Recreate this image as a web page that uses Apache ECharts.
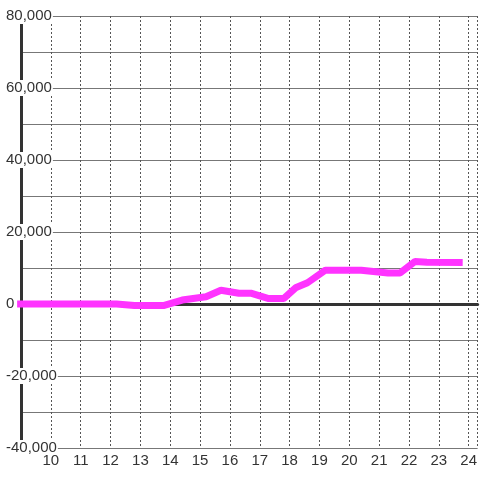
<!DOCTYPE html>
<html>
<head>
<meta charset="utf-8">
<script src="https://cdn.jsdelivr.net/npm/echarts@6/dist/echarts.min.js"></script>
<style>
  html, body { margin: 0; padding: 0; background: #fff; }
  #main { width: 480px; height: 480px; }
</style>
</head>
<body>
<div id="main"></div>
<script>
// hour of day vs value
var hours = [8.87, 12.2, 12.8, 13.8, 14.4, 15.2, 15.7, 16.3, 16.7, 17.3, 17.8, 18.2, 18.6, 19.2, 20.4, 21.3, 21.7, 22.2, 22.6, 23.8];
var values = [0, 0, -400, -400, 1100, 2000, 3800, 3000, 3000, 1500, 1500, 4500, 5900, 9400, 9400, 8600, 8600, 11800, 11600, 11500];

var xMin = 9, xMax = 24.3;
var yMin = -40000, yMax = 80000;

var chart = echarts.init(document.getElementById("main"));
var font = "'Liberation Sans', Arial, sans-serif";

chart.setOption({
  animation: false,
  grid: { left: 21, right: 0, top: 16, bottom: 32 },
  xAxis: [
    {
      type: "value",
      min: xMin,
      max: xMax,
      interval: 1,
      axisLine: { show: false, onZero: false },
      axisTick: { show: false },
      axisLabel: {
        color: "#333",
        fontSize: 15,
        fontFamily: font,
        margin: 5,
        showMaxLabel: false,
        formatter: function (v) {
          return (Number.isInteger(v) && v > xMin) ? String(v) : "";
        }
      },
      splitLine: { show: true, lineStyle: { color: "#555", width: 1, type: [2, 2] } }
    },
    {
      // zero line
      type: "value",
      min: xMin,
      max: xMax,
      position: "bottom",
      axisLine: { show: true, onZero: true, lineStyle: { color: "#333", width: 3 } },
      axisTick: { show: false },
      axisLabel: { show: false },
      splitLine: { show: false }
    }
  ],
  yAxis: {
    type: "value",
    min: yMin,
    max: yMax,
    interval: 10000,
    axisLine: { show: true, onZero: false, lineStyle: { color: "#333", width: 3 } },
    axisTick: { show: false },
    axisLabel: {
      color: "#333",
      fontSize: 15,
      fontFamily: font,
      align: "left",
      margin: 16,
      backgroundColor: "#fff",
      padding: [1, 1, 0, 1],
      formatter: function (v) {
        return v % 20000 === 0 ? v.toLocaleString("en-US") : "";
      }
    },
    splitLine: { show: true, lineStyle: { color: "#777", width: 1 } }
  },
  series: [
    {
      type: "line",
      xAxisIndex: 0,
      clip: false,
      data: hours.map(function (h, i) { return [h, values[i]]; }),
      showSymbol: false,
      lineStyle: { color: "#ff33ff", width: 7 }
    }
  ]
});
</script>
</body>
</html>
